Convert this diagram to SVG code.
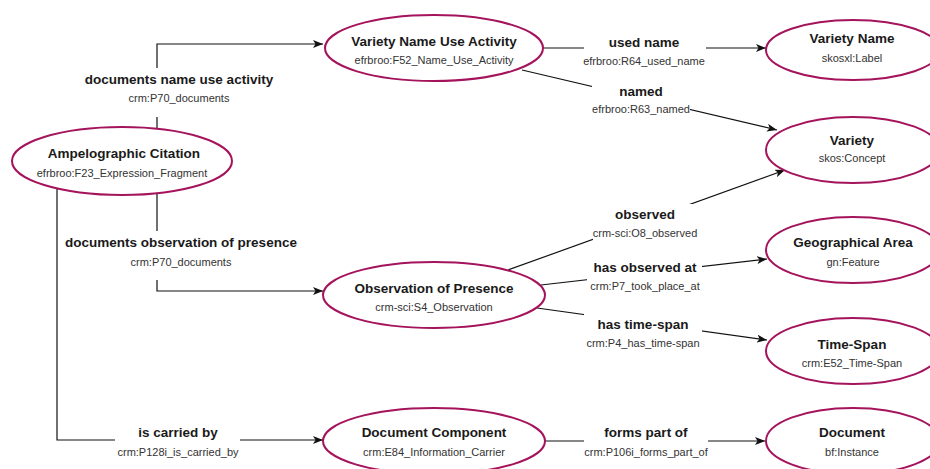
<svg xmlns="http://www.w3.org/2000/svg" width="930" height="469" viewBox="0 0 930 469">
<style>
.node ellipse{fill:#fff;stroke:#A4135B;stroke-width:2}
.t{font-family:"Liberation Sans",Arial,sans-serif;font-size:13.5px;font-weight:bold;fill:#1a1a1a;text-anchor:middle}
.s{font-family:"Liberation Sans",Arial,sans-serif;font-size:11px;fill:#333;text-anchor:middle}
.edge{fill:none;stroke:#111;stroke-width:1.2}
.bg{fill:#fff}
</style>
<defs>
<marker id="arr" viewBox="0 0 10 8" refX="10" refY="4" markerWidth="10" markerHeight="8" markerUnits="userSpaceOnUse" orient="auto">
<path d="M0,0 L10,4 L0,8 L2.5,4 Z" fill="#111"/>
</marker>
</defs>
<rect width="930" height="469" fill="#fff"/>
<g id="connectors">
<path class="edge" d="M157,129 V44 H323" marker-end="url(#arr)"/>
<path class="edge" d="M157,193 V291 H323" marker-end="url(#arr)"/>
<path class="edge" d="M57,188 V440 H323" marker-end="url(#arr)"/>
<path class="edge" d="M543,48 H766" marker-end="url(#arr)"/>
<path class="edge" d="M522,70 L777,130" marker-end="url(#arr)"/>
<path class="edge" d="M508,270 L785,170" marker-end="url(#arr)"/>
<path class="edge" d="M541,285 L767,259" marker-end="url(#arr)"/>
<path class="edge" d="M537,308 L767,340" marker-end="url(#arr)"/>
<path class="edge" d="M545,441 H765" marker-end="url(#arr)"/>
<g id="label-documents-name-use-activity">
<rect class="bg" x="84" y="68" width="190" height="49"/>
<text class="t" x="179" y="84">documents name use activity</text>
<text class="s" x="179" y="102">crm:P70_documents</text>
</g>
<g id="label-documents-observation">
<rect class="bg" x="64" y="231" width="235" height="49"/>
<text class="t" x="181" y="247">documents observation of presence</text>
<text class="s" x="181" y="266">crm:P70_documents</text>
</g>
<g id="label-is-carried-by">
<rect class="bg" x="115" y="421" width="125" height="48"/>
<text class="t" x="178" y="437">is carried by</text>
<text class="s" x="178" y="456">crm:P128i_is_carried_by</text>
</g>
<g id="label-used-name">
<rect class="bg" x="584" y="32" width="122" height="48"/>
<text class="t" x="644" y="47">used name</text>
<text class="s" x="644" y="65">efrbroo:R64_used_name</text>
</g>
<g id="label-named">
<rect class="bg" x="592" y="80" width="98" height="46"/>
<text class="t" x="641" y="96">named</text>
<text class="s" x="641" y="113">efrbroo:R63_named</text>
</g>
<g id="label-observed">
<rect class="bg" x="593" y="204" width="102" height="47"/>
<text class="t" x="645" y="219">observed</text>
<text class="s" x="645" y="237">crm-sci:O8_observed</text>
</g>
<g id="label-has-observed-at">
<rect class="bg" x="587" y="256" width="115" height="46"/>
<text class="t" x="645" y="272">has observed at</text>
<text class="s" x="645" y="290">crm:P7_took_place_at</text>
</g>
<g id="label-has-time-span">
<rect class="bg" x="584" y="313" width="118" height="46"/>
<text class="t" x="643" y="329">has time-span</text>
<text class="s" x="643" y="347">crm:P4_has_time-span</text>
</g>
<g id="label-forms-part-of">
<rect class="bg" x="584" y="421" width="124" height="48"/>
<text class="t" x="646" y="437">forms part of</text>
<text class="s" x="646" y="456">crm:P106i_forms_part_of</text>
</g>
</g>
<g id="node-ampelographic-citation" class="node">
<ellipse cx="122" cy="161" rx="110" ry="34"/>
<text class="t" x="124" y="157.5">Ampelographic Citation</text>
<text class="s" x="122" y="176.5">efrbroo:F23_Expression_Fragment</text>
</g>
<g id="node-variety-name-use-activity" class="node">
<ellipse cx="434" cy="48" rx="109" ry="33"/>
<text class="t" x="434" y="46">Variety Name Use Activity</text>
<text class="s" x="434" y="64">efrbroo:F52_Name_Use_Activity</text>
</g>
<g id="node-variety-name" class="node">
<ellipse cx="853" cy="50" rx="87" ry="30"/>
<text class="t" x="852" y="43">Variety Name</text>
<text class="s" x="852" y="62">skosxl:Label</text>
</g>
<g id="node-variety" class="node">
<ellipse cx="853" cy="150" rx="87" ry="33"/>
<text class="t" x="852" y="145">Variety</text>
<text class="s" x="852" y="162">skos:Concept</text>
</g>
<g id="node-geographical-area" class="node">
<ellipse cx="853" cy="250" rx="87" ry="33"/>
<text class="t" x="853" y="247">Geographical Area</text>
<text class="s" x="853" y="266">gn:Feature</text>
</g>
<g id="node-time-span" class="node">
<ellipse cx="853" cy="351" rx="87" ry="33"/>
<text class="t" x="852" y="349">Time-Span</text>
<text class="s" x="852" y="367">crm:E52_Time-Span</text>
</g>
<g id="node-observation-of-presence" class="node">
<ellipse cx="434" cy="295" rx="111" ry="33"/>
<text class="t" x="434" y="293">Observation of Presence</text>
<text class="s" x="434" y="311">crm-sci:S4_Observation</text>
</g>
<g id="node-document-component" class="node">
<ellipse cx="434" cy="441" rx="111" ry="33"/>
<text class="t" x="434" y="437">Document Component</text>
<text class="s" x="434" y="456">crm:E84_Information_Carrier</text>
</g>
<g id="node-document" class="node">
<ellipse cx="853" cy="441" rx="87" ry="33"/>
<text class="t" x="852" y="437">Document</text>
<text class="s" x="852" y="456">bf:Instance</text>
</g>
</svg>
